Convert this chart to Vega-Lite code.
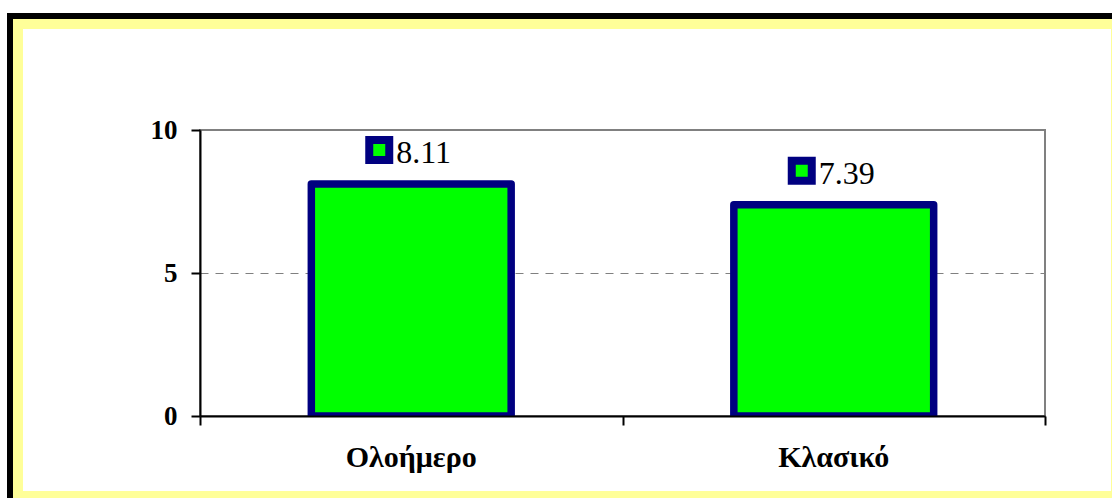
{
  "$schema": "https://vega.github.io/schema/vega-lite/v6.json",
  "width": 845,
  "height": 286,
  "autosize": {"type": "none"},
  "padding": {"left": 200, "top": 130, "right": 67, "bottom": 82},
  "background": "white",
  "config": {
    "view": {"stroke": "#808080", "strokeWidth": 2},
    "font": "Liberation Serif"
  },
  "datasets": {
    "bars": [
      {"kind": "Ολοήμερο", "score": 8.11},
      {"kind": "Κλασικό", "score": 7.39}
    ],
    "frame": [{"part": "border"}]
  },
  "resolve": {"scale": {"x": "independent"}, "axis": {"x": "independent"}},
  "layer": [
    {
      "data": {"name": "frame"},
      "encoding": {
        "x": {
          "type": "quantitative",
          "scale": {"domain": [0, 1], "nice": false, "zero": false},
          "axis": {
            "orient": "bottom",
            "values": [0, 0.5, 1],
            "labels": false,
            "tickSize": 9,
            "tickWidth": 2,
            "tickColor": "black",
            "domainColor": "black",
            "domainWidth": 2,
            "grid": false,
            "title": null,
            "zindex": 1
          }
        },
        "y": {"type": "quantitative", "scale": {"domain": [0, 10]}}
      },
      "layer": [
        {
          "mark": {"type": "rect", "fill": "transparent", "stroke": "black", "strokeWidth": 6},
          "encoding": {
            "x": {"datum": -0.22485, "type": "quantitative", "scale": {"domain": [0, 1], "nice": false, "zero": false}},
            "x2": {"datum": 1.09349},
            "y": {"datum": 13.986, "type": "quantitative", "scale": {"domain": [0, 10]}},
            "y2": {"datum": -3.077}
          }
        },
        {
          "mark": {"type": "rect", "fill": "transparent", "stroke": "#FFFF99", "strokeWidth": 10},
          "encoding": {
            "x": {"datum": -0.21538, "type": "quantitative", "scale": {"domain": [0, 1], "nice": false, "zero": false}},
            "x2": {"datum": 1.08402},
            "y": {"datum": 13.706, "type": "quantitative", "scale": {"domain": [0, 10]}},
            "y2": {"datum": -2.797}
          }
        }
      ]
    },
    {
      "data": {"name": "bars"},
      "encoding": {
        "x": {
          "field": "kind",
          "type": "nominal",
          "sort": null,
          "scale": {"paddingInner": 0.527, "paddingOuter": 0.2635},
          "axis": {
            "orient": "bottom",
            "domain": false,
            "ticks": false,
            "labelFont": "Liberation Serif",
            "labelFontWeight": "bold",
            "labelFontSize": 30,
            "labelPadding": 50,
            "labelBaseline": "alphabetic",
            "labelColor": "black",
            "labelAngle": 0,
            "title": null
          }
        },
        "y": {
          "field": "score",
          "type": "quantitative",
          "scale": {"domain": [0, 10]},
          "axis": {
            "values": [0, 5, 10],
            "grid": true,
            "gridDash": [8, 7],
            "gridColor": "#808080",
            "gridWidth": 1,
            "domainColor": "black",
            "domainWidth": 2,
            "tickColor": "black",
            "tickWidth": 2,
            "tickSize": 9,
            "labelFont": "Liberation Serif",
            "labelFontSize": 27,
            "labelFontWeight": "bold",
            "labelPadding": 14,
            "labelColor": "black",
            "title": null
          }
        }
      },
      "layer": [
        {
          "mark": {"type": "bar", "fill": "#00FF00", "stroke": "#000080", "strokeWidth": 7.5, "strokeJoin": "round", "clip": true}
        },
        {
          "mark": {"type": "point", "shape": "square", "size": 400, "filled": true, "fill": "#00FF00", "stroke": "#000080", "strokeWidth": 8, "opacity": 1, "xOffset": -32, "yOffset": -34}
        },
        {
          "mark": {"type": "text", "align": "left", "baseline": "alphabetic", "dx": -15, "dy": -21, "fontSize": 32, "font": "Liberation Serif", "fill": "black"},
          "encoding": {"text": {"field": "score", "type": "quantitative", "format": ".2f"}}
        }
      ]
    }
  ]
}
